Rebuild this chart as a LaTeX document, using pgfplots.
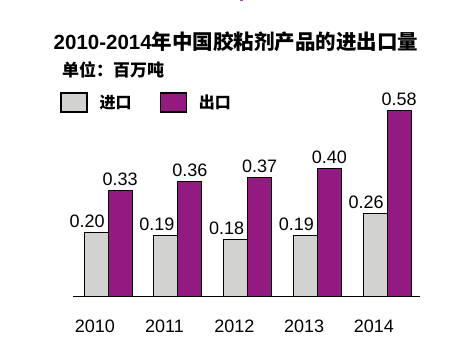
\documentclass[border=0pt]{standalone}
\usepackage{pgfplots}
\pgfplotsset{compat=1.18}
\usepackage{fontspec}
\setmainfont{Liberation Sans}
\newfontfamily\cjk{Noto Sans CJK SC}
\definecolor{imp}{HTML}{D2D2D0}
\definecolor{exp}{HTML}{921A80}
\begin{document}
\begin{tikzpicture}[x=1pt,y=1pt]
\path[use as bounding box] (0,0) rectangle (475,356);
\fill[exp!80] (240,354.5) rectangle (242.5,356);
\begin{axis}[
  at={(73pt,59pt)}, anchor=south west,
  scale only axis, width=347pt, height=193.2pt,
  ymin=0, ymax=0.6, xmin=-0.502, xmax=4.47,
  axis lines=none,
  ybar=0pt, bar width=24pt,
  xtick=\empty, ytick=\empty,
  clip=false,
  legend style={at={(-0.037,1.06)}, anchor=north west, draw=none, fill=none,
    inner sep=0pt, legend columns=2, font=\cjk\bfseries\fontsize{16}{16}\selectfont,
    /tikz/every even column/.append style={column sep=26pt}},
  legend cell align=left,
  legend image code/.code={\draw[#1, draw=black, line width=1.2pt] (0pt,-9.5pt) rectangle (26pt,9.5pt);},
  nodes near coords,
  nodes near coords style={font=\fontsize{18}{18}\selectfont},
  /pgf/number format/fixed, /pgf/number format/fixed zerofill, /pgf/number format/precision=2,
  /pgf/number format/assume math mode=true,
]
\addplot[fill=imp, draw=black, line width=1pt, nodes near coords style={xshift=-9pt, yshift=1pt}] coordinates {(0,0.20) (1,0.19) (2,0.18) (3,0.19) (4,0.26)};
\addlegendentry{\hspace{10pt}进口}
\addplot[fill=exp, draw=black, line width=1pt, nodes near coords style={yshift=1pt}] coordinates {(0,0.33) (1,0.36) (2,0.37) (3,0.40) (4,0.58)};
\addlegendentry{\hspace{10pt}出口}
\draw[black, line width=1pt] (rel axis cs:0,0) -- (rel axis cs:1,0);
\foreach \i/\y in {0/2010,1/2011,2/2012,3/2013,4/2014}{
  \edef\tmp{\noexpand\node[font=\noexpand\fontsize{18}{18}\noexpand\selectfont, anchor=center] at (axis cs:\i-0.19,0) [yshift=-29pt] {\y};}
  \tmp
}
\end{axis}
\node[font=\cjk\bfseries\fontsize{20.5}{20.5}\selectfont, anchor=center] at (236,314) {{\rmfamily\bfseries 2010-2014}年中国胶粘剂产品的进出口量};
\node[font=\cjk\bfseries\fontsize{17}{17}\selectfont, anchor=west, inner sep=0pt] at (62,286) {单位：百万吨};
\end{tikzpicture}
\end{document}
